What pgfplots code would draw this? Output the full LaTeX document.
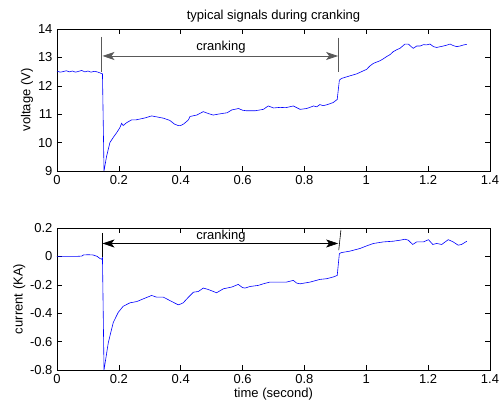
\documentclass[border=0pt]{standalone}
\usepackage{pgfplots}
\pgfplotsset{compat=1.18}
\usepackage{fontspec}
\setmainfont{Liberation Sans}
\usetikzlibrary{arrows.meta}

\pgfplotstableread{
t v
0 12.52
0.01 12.48
0.02 12.50
0.03 12.53
0.04 12.49
0.05 12.52
0.06 12.48
0.07 12.51
0.08 12.54
0.09 12.49
0.10 12.52
0.11 12.48
0.12 12.51
0.13 12.49
0.14 12.45
0.147 12.42
0.152 9.0
0.16 9.5
0.171 10.0
0.183 10.2
0.193 10.35
0.203 10.52
0.209 10.68
0.214 10.6
0.225 10.7
0.241 10.8
0.255 10.8
0.268 10.83
0.285 10.87
0.306 10.94
0.325 10.9
0.344 10.86
0.365 10.78
0.38 10.65
0.392 10.6
0.40 10.6
0.41 10.66
0.425 10.8
0.43 10.92
0.452 10.97
0.473 11.09
0.49 11.02
0.505 10.97
0.52 11.0
0.537 11.03
0.55 11.05
0.565 11.15
0.587 11.2
0.60 11.14
0.613 11.12
0.64 11.12
0.667 11.17
0.683 11.29
0.70 11.22
0.721 11.24
0.74 11.23
0.764 11.29
0.786 11.17
0.807 11.2
0.82 11.25
0.829 11.29
0.84 11.26
0.85 11.34
0.86 11.3
0.872 11.33
0.893 11.41
0.906 11.52
0.913 12.2
0.92 12.26
0.947 12.35
0.969 12.42
0.985 12.5
1.001 12.58
1.012 12.7
1.023 12.79
1.044 12.88
1.055 12.95
1.066 13.03
1.077 13.1
1.087 13.2
1.1 13.28
1.109 13.32
1.125 13.47
1.136 13.47
1.145 13.38
1.152 13.32
1.163 13.4
1.174 13.4
1.185 13.45
1.195 13.44
1.206 13.47
1.217 13.38
1.228 13.35
1.24 13.38
1.249 13.4
1.26 13.43
1.271 13.47
1.28 13.42
1.292 13.38
1.303 13.4
1.315 13.44
1.325 13.46
}\voltage

\pgfplotstableread{
t i
0 0.0
0.02 0.0
0.04 0.0
0.06 0.0
0.08 0.002
0.085 0.01
0.10 0.012
0.117 0.01
0.13 0.0
0.139 -0.015
0.145 -0.02
0.147 -0.01
0.152 -0.8
0.166 -0.606
0.182 -0.465
0.198 -0.394
0.214 -0.351
0.236 -0.327
0.258 -0.318
0.279 -0.299
0.306 -0.275
0.322 -0.287
0.344 -0.287
0.365 -0.311
0.392 -0.341
0.40 -0.335
0.408 -0.327
0.425 -0.287
0.441 -0.252
0.457 -0.247
0.473 -0.223
0.489 -0.233
0.516 -0.256
0.538 -0.228
0.565 -0.216
0.586 -0.197
0.60 -0.22
0.608 -0.223
0.624 -0.212
0.651 -0.204
0.667 -0.193
0.688 -0.181
0.71 -0.181
0.742 -0.181
0.764 -0.169
0.775 -0.188
0.786 -0.193
0.818 -0.181
0.85 -0.162
0.872 -0.157
0.893 -0.145
0.906 -0.134
0.913 0.02
0.92 0.027
0.947 0.037
0.98 0.056
1.001 0.074
1.023 0.091
1.055 0.102
1.087 0.107
1.109 0.114
1.125 0.121
1.136 0.114
1.15 0.084
1.163 0.102
1.185 0.102
1.201 0.118
1.215 0.084
1.228 0.091
1.244 0.084
1.265 0.118
1.281 0.102
1.297 0.079
1.308 0.084
1.325 0.107
}\current

\pgfplotsset{
  panel/.style={
    scale only axis,
    width=433pt, height=142pt,
    xmin=0, xmax=1.4,
    xtick={0,0.2,...,1.4},
    tick align=inside,
    major tick length=5pt,
    tick style={black, line width=0.5pt},
    axis line style={black, line width=0.6pt},
    font=\fontsize{13}{15}\selectfont,
    /pgf/number format/assume math mode=true,
    xticklabel style={yshift=-1pt},
    yticklabel style={xshift=-1pt},
    clip=false,
  },
  sig/.style={blue, line width=0.6pt},
}
\tikzset{
  crank/.style={line width=0.8pt,
    {Stealth[length=12pt,width=8pt,inset=3pt]}-{Stealth[length=12pt,width=8pt,inset=3pt]}},
}

\begin{document}
\begin{tikzpicture}
\useasboundingbox (-57pt,-237pt) rectangle (442pt,171pt);

\begin{axis}[panel,
  at={(0,0)}, anchor=south west,
  ymin=9, ymax=14, ytick={9,10,...,14},
  ylabel={voltage (V)},
  ylabel style={yshift=-2pt},
  title={typical signals during cranking},
  title style={yshift=-3pt},
]
\addplot[sig] table[x=t, y=v] {\voltage};
\draw[gray!70!black, line width=0.8pt] (axis cs:0.145,13.72) -- (axis cs:0.145,12.49);
\draw[gray!70!black, line width=0.8pt] (axis cs:0.911,13.70) -- (axis cs:0.911,12.49);
\draw[crank, gray!70!black] (axis cs:0.147,13.05) -- (axis cs:0.909,13.05);
\node[font=\fontsize{13}{15}\selectfont] at (axis cs:0.53,13.36) {cranking};
\end{axis}

\begin{axis}[panel,
  at={(0,-57pt)}, anchor=north west,
  ymin=-0.8, ymax=0.2, ytick={-0.8,-0.6,...,0.2},
  yticklabel={\pgfmathprintnumber[fixed,precision=1]{\tick}},
  ylabel={current (KA)},
  ylabel style={yshift=-2pt},
  xlabel={time (second)},
  xlabel style={yshift=3pt},
]
\addplot[sig] table[x=t, y=i] {\current};
\draw[black, line width=0.6pt] (axis cs:0.145,0.165) -- (axis cs:0.145,-0.004);
\draw[black, line width=0.6pt] (axis cs:0.918,0.186) -- (axis cs:0.911,0.044);
\draw[crank, black, line width=0.6pt] (axis cs:0.147,0.091) -- (axis cs:0.909,0.091);
\node[font=\fontsize{13}{15}\selectfont] at (axis cs:0.53,0.145) {cranking};
\end{axis}
\end{tikzpicture}
\end{document}
